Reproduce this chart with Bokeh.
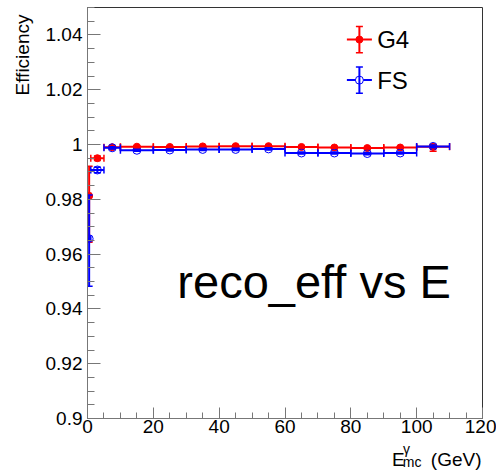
import numpy as np
from bokeh.plotting import figure
from bokeh.models import (ColumnDataSource, Whisker, TeeHead, FixedTicker, LinearAxis,
                          CustomJSTickFormatter, Label, Range1d)
from bokeh.embed import file_html
from bokeh.resources import INLINE

# ---------------- data ----------------
bin_lo = [0, 1, 5, 10, 20, 30, 40, 50, 60, 70, 80, 90, 100]
bin_hi = [1, 5, 10, 20, 30, 40, 50, 60, 70, 80, 90, 100, 110]
bin_center = [0.5, 3, 7.5, 15, 25, 35, 45, 55, 65, 75, 85, 95, 105]

g4_eff = [0.9812, 0.9950, 0.9990, 0.9992, 0.9991, 0.9993, 0.9994, 0.9994,
          0.9991, 0.9989, 0.9987, 0.9989, 0.9992]
g4_err_lo = [0.0169, 0.0008, 0.0004, 0.0003, 0.0003, 0.0003, 0.0003, 0.0003,
             0.0003, 0.0003, 0.0003, 0.0003, 0.0017]
g4_err_hi = [0.0109, 0.0008, 0.0003, 0.0003, 0.0003, 0.0003, 0.0003, 0.0003,
             0.0003, 0.0003, 0.0003, 0.0003, 0.0006]

fs_eff = [0.9656, 0.9907, 0.9988, 0.9979, 0.9980, 0.9982, 0.9982, 0.9984,
          0.9969, 0.9969, 0.9967, 0.9969, 0.9993]
fs_err_lo = [0.0173, 0.0010, 0.0004, 0.0004, 0.0004, 0.0004, 0.0004, 0.0004,
             0.0004, 0.0004, 0.0004, 0.0004, 0.0005]
fs_err_hi = [0.0160, 0.0010, 0.0004, 0.0004, 0.0004, 0.0004, 0.0004, 0.0004,
             0.0004, 0.0004, 0.0004, 0.0004, 0.0005]

series_names = ["G4", "FS"]
series_colors = ["#ff0000", "#0000ff"]

x_major_ticks = [0, 20, 40, 60, 80, 100, 120]
x_minor_ticks = list(range(0, 121, 5))
y_major_ticks = [0.9, 0.92, 0.94, 0.96, 0.98, 1.0, 1.02, 1.04]
y_minor_ticks = [round(0.9 + 0.005 * i, 3) for i in range(31)]

y_title = "Efficiency"
x_title_parts = ["E", "(GeV)"]        # main part of the x title
x_title_sup = "γ"                     # superscript of E
x_title_sub = "mc"                    # subscript of E
overlay_text = "reco_eff vs E"

FONT = "Liberation Sans"

p = figure(width=496, height=473, x_range=Range1d(0, 120), y_range=Range1d(0.9, 1.05),
           output_backend="svg", toolbar_location=None,
           min_border_left=87, min_border_right=14, min_border_top=7, min_border_bottom=55)
p.grid.visible = False
p.outline_line_color = "#333333"
p.outline_line_width = 1
p.background_fill_color = "white"
p.border_fill_color = "white"

for ax in (p.xaxis[0], p.yaxis[0]):
    ax.major_tick_out = 0
    ax.minor_tick_out = 0
    ax.axis_line_color = "#777777"
    ax.major_tick_line_color = "#777777"
    ax.minor_tick_line_color = "#777777"
    ax.major_label_text_font = FONT
    ax.major_label_text_font_size = "19px"
    ax.major_label_text_color = "black"

p.xaxis[0].ticker = FixedTicker(ticks=x_major_ticks, minor_ticks=x_minor_ticks)
p.xaxis[0].major_tick_in = 11
p.xaxis[0].minor_tick_in = 6
p.xaxis[0].major_label_standoff = 1
p.yaxis[0].ticker = FixedTicker(ticks=y_major_ticks, minor_ticks=y_minor_ticks)
p.yaxis[0].major_tick_in = 13
p.yaxis[0].minor_tick_in = 7
p.yaxis[0].major_label_standoff = 5
p.yaxis[0].formatter = CustomJSTickFormatter(
    code="return tick.toFixed(2).replace(/0+$/, '').replace(/\\.$/, '');")

# y title at the top end of the axis (ROOT style); the label is centred on the
# axis end, so it is padded with trailing no-break spaces to sit below that end
yax = p.yaxis[0]
yax.axis_label = y_title + "\u00a0" * 18
yax.axis_label_text_font = FONT
yax.axis_label_text_font_size = "19px"
yax.axis_label_text_font_style = "normal"
yax.axis_label_text_color = "black"
for v in ("end", "right", "top"):
    try:
        yax.axis_label_align = v
        break
    except Exception:
        pass
try:
    yax.axis_label_standoff_mode = "axis"
    yax.axis_label_standoff = 55
except Exception:
    yax.axis_label_standoff = 12


# x title pieces: label-only axes stacked below the main x axis
def text_axis(tvals, tlabels, size, standoff):
    ax = LinearAxis(
        ticker=FixedTicker(ticks=tvals, minor_ticks=[]),
        formatter=CustomJSTickFormatter(
            args=dict(tvals=tvals, tlabels=tlabels),
            code="const i = tvals.findIndex(t => Math.abs(t - tick) < 1e-6);"
                 "return i >= 0 ? tlabels[i] : '';"),
        axis_line_color=None, major_tick_line_color=None, minor_tick_line_color=None,
        major_tick_in=0, major_tick_out=0, minor_tick_in=0, minor_tick_out=0,
        major_label_standoff=standoff, major_label_text_font=FONT,
        major_label_text_font_size=size, major_label_text_color="black")
    p.add_layout(ax, "below")
    return ax


text_axis([96.9], [x_title_sup], "14px", 5)
text_axis([98.6], [x_title_sub], "14px", -6)
text_axis([94.44, 112.0], x_title_parts, "19px", -24)


def draw_series(eff, elo, ehi, color, filled):
    src = ColumnDataSource(dict(
        x=bin_center, xlo=bin_lo, xhi=bin_hi, y=eff,
        ylo=[e - l for e, l in zip(eff, elo)],
        yhi=[e + h for e, h in zip(eff, ehi)]))
    wh = Whisker(base="y", lower="xlo", upper="xhi", dimension="width", source=src,
                 line_color=color, line_width=2, level="glyph",
                 upper_head=TeeHead(size=7, line_color=color, line_width=1.5),
                 lower_head=TeeHead(size=7, line_color=color, line_width=1.5))
    wv = Whisker(base="x", lower="ylo", upper="yhi", dimension="height", source=src,
                 line_color=color, line_width=2, level="glyph",
                 upper_head=TeeHead(size=7, line_color=color, line_width=1.5),
                 lower_head=TeeHead(size=7, line_color=color, line_width=1.5))
    p.add_layout(wh)
    p.add_layout(wv)
    if filled:
        p.scatter("x", "y", source=src, marker="circle", size=7,
                  fill_color=color, line_color=color, line_width=1)
    else:
        p.scatter("x", "y", source=src, marker="circle", size=8,
                  fill_alpha=0, line_color=color, line_width=1)


draw_series(g4_eff, g4_err_lo, g4_err_hi, series_colors[0], True)
draw_series(fs_eff, fs_err_lo, fs_err_hi, series_colors[1], False)

# ---------------- legend (manual, ROOT style) ----------------
leg_x = 82.6
leg_half_w = 3.8
leg_rows = [1.0383, 1.0235]
leg_half_h = 0.0048
leg_src = ColumnDataSource(dict(
    x=[leg_x] * 2, x0=[leg_x - leg_half_w] * 2, x1=[leg_x + leg_half_w] * 2,
    y=leg_rows, ylo=[r - leg_half_h for r in leg_rows], yhi=[r + leg_half_h for r in leg_rows],
    color=series_colors, fill=[series_colors[0], "white"], size=[7, 8]))
p.segment(x0="x0", y0="y", x1="x1", y1="y", source=leg_src, line_color="color", line_width=2)
p.add_layout(Whisker(base="x", lower="ylo", upper="yhi", dimension="height", source=leg_src,
                     line_color="color", line_width=2, level="glyph",
                     upper_head=TeeHead(size=7, line_color="color", line_width=1.5),
                     lower_head=TeeHead(size=7, line_color="color", line_width=1.5)))
p.scatter(x="x", y="y", source=leg_src, marker="circle", size="size",
          fill_color="fill", line_color="color", line_width=1)
for name, row in zip(series_names, leg_rows):
    p.add_layout(Label(x=88.0, y=row, text=name, text_font=FONT, text_font_size="24px",
                       text_baseline="middle", text_align="left", text_color="black"))

p.add_layout(Label(x=27.3, y=0.9499, text=overlay_text, text_font=FONT,
                   text_font_size="47px", text_baseline="middle", text_color="black"))

open("out.html", "w").write(file_html(p, INLINE))
